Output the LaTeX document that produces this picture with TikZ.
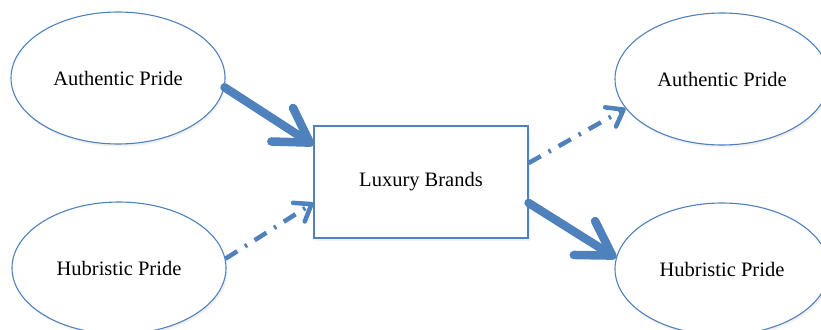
\documentclass[tikz,border=0pt]{standalone}
\usepackage{fontspec}
\setmainfont{Liberation Serif}
\usetikzlibrary{shapes.geometric,arrows.meta,shadows}
\definecolor{obl}{HTML}{4F81BD}
\tikzset{
  oval/.style={ellipse,draw=obl,line width=1.1pt,fill=white,minimum width=214pt,minimum height=132pt,inner sep=0pt,font=\fontsize{20.5}{24}\selectfont,
    drop shadow={opacity=0.12,shadow xshift=1.5pt,shadow yshift=-2.5pt}},
  brand/.style={rectangle,draw=obl,line width=1.1pt,fill=white,minimum width=214pt,minimum height=112pt,inner sep=0pt,font=\fontsize{20.5}{24}\selectfont,
    drop shadow={opacity=0.12,shadow xshift=1.5pt,shadow yshift=-2.5pt}},
  strong/.style={draw=obl,line width=8.5pt,line cap=round,-{Straight Barb[length=33pt,width=40pt,round]}},
  weak/.style={draw=obl,line width=4.5pt,dash pattern=on 14pt off 9pt on 2.5pt off 9pt,-{Straight Barb[length=15pt,width=22pt,round]}}
}
\begin{document}
\begin{tikzpicture}[x=1pt,y=-1pt]
\useasboundingbox (0,0) rectangle (821,329);
\node[oval] (al) at (118,78) {Authentic Pride};
\node[oval] (hl) at (119,268) {Hubristic Pride};
\node[brand] (lb) at (421,182) {Luxury Brands};
\node[oval] (ar) at (722,79) {Authentic Pride};
\node[oval] (hr) at (722,269) {Hubristic Pride};
\draw[strong] (al.-5) -- (lb.161);
\draw[weak] (hl.5) -- (lb.191);
\draw[weak] (lb.10) -- (ar.197);
\draw[strong] (lb.-11) -- (hr.174);
\end{tikzpicture}
\end{document}
